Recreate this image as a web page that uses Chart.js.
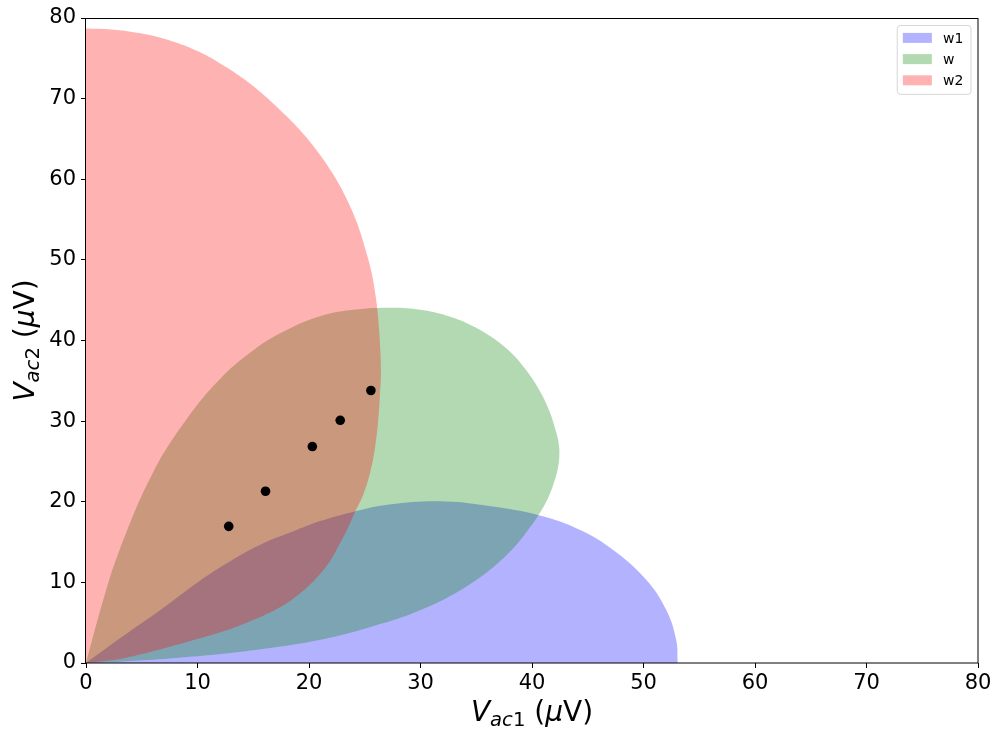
<!DOCTYPE html>
<html>
<head>
<meta charset="utf-8">
<title>Vac1 / Vac2 regions</title>
<script src="https://cdn.jsdelivr.net/npm/chart.js@4.4.1/dist/chart.umd.min.js"></script>
<style>
  html, body { margin: 0; padding: 0; background: #ffffff; }
  #wrap { width: 995px; height: 729px; }
</style>
</head>
<body>
<div id="wrap"><canvas id="chart" width="995" height="729"></canvas></div>
<script>
// Boundary of the w1 region, traced from its right end on the V_ac1 axis back to the origin
// (the outline closes along the V_ac1 axis).
const w1X = [53.07, 52.93, 52.03, 50.24, 47.25, 44.27, 40.7, 36.0, 31.7, 27.2, 24.1, 21.0, 18.9, 16.0, 12.9, 10.0, 6.7, 3.4, 0];
const w1Y = [0, 2.89, 6.61, 10.34, 14.06, 16.54, 18.3, 19.5, 20.05, 19.65, 18.8, 17.6, 16.5, 14.9, 12.6, 10.0, 6.6, 3.4, 0];

// Boundary of the w region: up the steep edge, over the top, round the right side and back
// along the lower edge towards the origin.
const wX = [0, 1.5, 3.0, 6.0, 9.0, 12.0, 15.0, 18.0, 21.0, 24.0, 27.5, 30.0, 32.3, 34.4, 36.2, 37.8, 39.2, 40.6, 41.55, 42.15, 42.4, 42.45, 42.3, 41.95, 41.45, 40.7, 39.6, 38.3, 36.7, 34.8, 32.8, 30.6, 28.2, 25.6, 23.0, 20.0, 16.5, 13.0, 9.5, 6.5, 3.0];
const wY = [0, 7.6, 14.0, 23.6, 30.2, 35.2, 38.8, 41.3, 43.0, 43.8, 44.05, 43.8, 43.1, 42.0, 40.6, 38.9, 36.8, 34.0, 31.3, 28.7, 27.2, 25.6, 24.0, 22.3, 20.5, 18.6, 16.4, 14.2, 12.1, 10.1, 8.4, 6.9, 5.6, 4.5, 3.5, 2.6, 1.85, 1.25, 0.8, 0.45, 0.15];

// Boundary of the w2 region, from its top on the V_ac2 axis round to the origin
// (the outline closes along the V_ac2 axis).
const w2X = [0, 2.0, 4.0, 6.0, 8.0, 10.0, 12.0, 14.0, 16.0, 18.0, 19.5, 21.0, 22.3, 23.4, 24.3, 25.0, 25.6, 26.0, 26.25, 26.4, 26.45, 26.35, 26.2, 25.95, 25.55, 24.9, 24.15, 23.4, 22.6, 21.86, 20.5, 18.9, 17.4, 15.9, 14.4, 12.9, 9.8, 6.7, 3.4, 0];
const w2Y = [78.7, 78.6, 78.3, 77.8, 77.0, 75.9, 74.4, 72.6, 70.4, 67.8, 65.6, 63.0, 60.3, 57.5, 54.6, 51.6, 48.5, 45.3, 42.0, 38.8, 35.8, 33.0, 30.0, 27.0, 24.0, 21.0, 18.8, 16.5, 14.4, 12.6, 10.3, 8.3, 6.9, 5.85, 5.0, 4.2, 2.9, 1.7, 0.6, 0];

// Measured operating points
const measX = [12.8, 16.1, 20.3, 22.8, 25.55];
const measY = [16.95, 21.3, 26.85, 30.1, 33.8];

const seriesLabels = ['w1', 'w', 'w2'];
const seriesColors = ['rgba(0, 0, 255, 0.3)', 'rgba(0, 128, 0, 0.3)', 'rgba(255, 0, 0, 0.3)'];
const axisMin = 0;
const axisMax = 80;
const tickStep = 10;

const FONT = '"DejaVu Sans", "Liberation Sans", sans-serif';

function zip(xs, ys) {
  return xs.map((x, i) => ({ x: x, y: ys[i] }));
}

function region(label, xs, ys, color, order) {
  return {
    type: 'line',
    label: label,
    data: zip(xs, ys),
    fill: 'shape',
    backgroundColor: color,
    borderColor: 'rgba(0,0,0,0)',
    borderWidth: 0,
    pointRadius: 0,
    pointHoverRadius: 0,
    tension: 0.4,
    order: order
  };
}

// Axis titles with italic symbols and subscripts
const xTitleRuns = [
  { t: 'V', it: true, sub: false },
  { t: 'ac', it: true, sub: true },
  { t: '1', it: false, sub: true },
  { t: ' (', it: false, sub: false },
  { t: 'μ', it: true, sub: false },
  { t: 'V)', it: false, sub: false }
];
const yTitleRuns = [
  { t: 'V', it: true, sub: false },
  { t: 'ac', it: true, sub: true },
  { t: '2', it: false, sub: true },
  { t: ' (', it: false, sub: false },
  { t: 'μ', it: true, sub: false },
  { t: 'V)', it: false, sub: false }
];

function runFont(r, size) {
  const s = r.sub ? size * 0.7 : size;
  return (r.it ? 'italic ' : '') + s.toFixed(1) + 'px ' + FONT;
}

function drawRuns(ctx, runs, size, cx, cy, angle) {
  ctx.save();
  ctx.translate(cx, cy);
  ctx.rotate(angle);
  ctx.textAlign = 'left';
  ctx.textBaseline = 'alphabetic';
  ctx.fillStyle = '#000000';
  const widths = runs.map(r => { ctx.font = runFont(r, size); return ctx.measureText(r.t).width; });
  const total = widths.reduce((a, b) => a + b, 0);
  let x = -total / 2;
  runs.forEach((r, i) => {
    ctx.font = runFont(r, size);
    ctx.fillText(r.t, x, r.sub ? size * 0.17 : 0);
    x += widths[i];
  });
  ctx.restore();
}

function roundRect(ctx, x, y, w, h, r) {
  ctx.beginPath();
  ctx.moveTo(x + r, y);
  ctx.lineTo(x + w - r, y);
  ctx.arcTo(x + w, y, x + w, y + r, r);
  ctx.lineTo(x + w, y + h - r);
  ctx.arcTo(x + w, y + h, x + w - r, y + h, r);
  ctx.lineTo(x + r, y + h);
  ctx.arcTo(x, y + h, x, y + h - r, r);
  ctx.lineTo(x, y + r);
  ctx.arcTo(x, y, x + r, y, r);
  ctx.closePath();
}

const decorations = {
  id: 'decorations',
  afterDatasetsDraw(chart) {
    const ctx = chart.ctx;
    const a = chart.chartArea;

    // frame around the plotting area
    ctx.save();
    ctx.strokeStyle = '#000000';
    ctx.lineWidth = 1;
    ctx.strokeRect(Math.round(a.left) - 0.5, Math.round(a.top) + 0.5,
                   Math.round(a.right - a.left) + 0.5, Math.round(a.bottom - a.top) - 0.5);
    ctx.restore();

    // legend (upper right)
    const fs = 14;
    const items = chart.data.datasets.filter(d => seriesLabels.includes(d.label));
    ctx.save();
    ctx.font = fs + 'px ' + FONT;
    const textW = Math.max(...items.map(d => ctx.measureText(d.label).width));
    const pad = 0.4 * fs, handleW = 29, handleH = 10, gap = 0.8 * fs, rowH = 21.2;
    const boxW = pad * 2 + handleW + gap + textW + 2;
    const boxH = pad * 2 + rowH * items.length - 7 + 1;
    const bx = a.right - 7 - boxW;
    const by = a.top + 7.5;
    roundRect(ctx, bx, by, boxW, boxH, 3);
    ctx.fillStyle = 'rgba(255,255,255,0.8)';
    ctx.fill();
    ctx.strokeStyle = 'rgba(204,204,204,0.8)';
    ctx.lineWidth = 1;
    ctx.stroke();
    items.forEach((d, i) => {
      const cy = by + pad + 6.8 + i * rowH;
      ctx.fillStyle = d.backgroundColor;
      ctx.fillRect(bx + pad, cy - handleH / 2, handleW, handleH);
      ctx.fillStyle = '#000000';
      ctx.textBaseline = 'middle';
      ctx.textAlign = 'left';
      ctx.fillText(d.label, bx + pad + handleW + gap, cy + 1);
    });
    ctx.restore();

    // axis titles
    drawRuns(ctx, xTitleRuns, 28, (a.left + a.right) / 2, 721, 0);
    drawRuns(ctx, yTitleRuns, 28, 34, (a.top + a.bottom) / 2, -Math.PI / 2);
  }
};

const tickFont = { family: FONT, size: 21 };

new Chart(document.getElementById('chart'), {
  type: 'scatter',
  data: {
    datasets: [
      region(seriesLabels[0], w1X, w1Y, seriesColors[0], 3),
      region(seriesLabels[1], wX, wY, seriesColors[1], 2),
      region(seriesLabels[2], w2X, w2Y, seriesColors[2], 1),
      {
        type: 'scatter',
        label: 'measured',
        data: zip(measX, measY),
        backgroundColor: '#000000',
        borderColor: '#000000',
        borderWidth: 0,
        pointRadius: 4.8,
        pointHoverRadius: 4.8,
        order: 0
      }
    ]
  },
  options: {
    responsive: false,
    devicePixelRatio: 1,
    animation: false,
    events: [],
    layout: { padding: { top: 18, right: 17, bottom: 0, left: 0 } },
    plugins: {
      legend: { display: false },
      tooltip: { enabled: false }
    },
    scales: {
      x: {
        type: 'linear',
        min: axisMin,
        max: axisMax,
        border: { display: false },
        grid: { drawOnChartArea: false, drawTicks: true, tickLength: 5, tickColor: '#000000', tickWidth: 1 },
        ticks: { stepSize: tickStep, color: '#000000', font: tickFont, padding: 3, maxRotation: 0, autoSkip: false },
        afterFit(scale) { scale.height = 66; }
      },
      y: {
        type: 'linear',
        min: axisMin,
        max: axisMax,
        border: { display: false },
        grid: { drawOnChartArea: false, drawTicks: true, tickLength: 5, tickColor: '#000000', tickWidth: 1 },
        ticks: { stepSize: tickStep, color: '#000000', font: tickFont, padding: 5, autoSkip: false },
        afterFit(scale) { scale.width = 86; }
      }
    }
  },
  plugins: [decorations]
});
</script>
</body>
</html>
